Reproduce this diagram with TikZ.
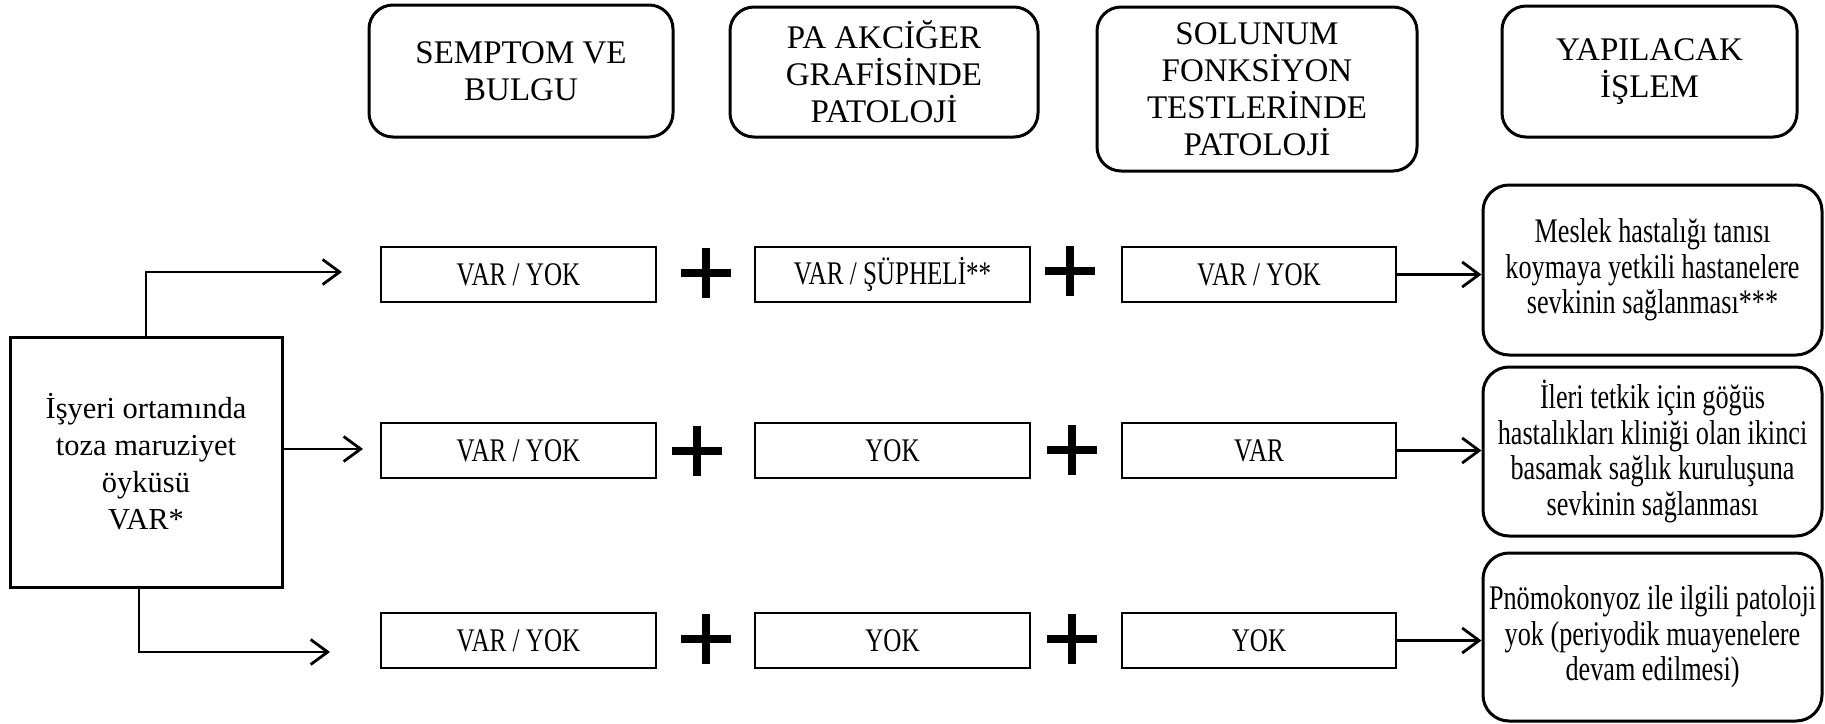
\documentclass[tikz,border=0pt]{standalone}
\usepackage{fontspec}
\setmainfont{Liberation Serif}
\newfontfamily\condserif{Liberation Serif}[FakeStretch=0.76]
\usetikzlibrary{arrows.meta}
\tikzset{
  hdr/.style={draw, line width=3pt, rounded corners=24pt, inner sep=0pt, align=center,
    font=\fontsize{33}{37}\selectfont},
  src/.style={draw, line width=3pt, inner sep=0pt, align=center,
    minimum width=272pt, minimum height=250pt, font=\fontsize{30.5}{37}\selectfont},
  cell/.style={draw, line width=2.8pt, inner sep=0pt, minimum height=55pt,
    font=\condserif\fontsize{33}{36}\selectfont},
  res/.style={draw, line width=3pt, rounded corners=26pt, inner sep=0pt, align=center,
    minimum width=339pt, font=\condserif\fontsize{34.5}{35.5}\selectfont},
  plusmark/.style={minimum size=50pt, inner sep=0pt,
    path picture={
      \fill ([yshift=-3.6pt]path picture bounding box.west) rectangle ([yshift=3.6pt]path picture bounding box.east);
      \fill ([xshift=-3.6pt]path picture bounding box.south) rectangle ([xshift=3.6pt]path picture bounding box.north);}},
  arr/.style={line width=2.8pt, -{Straight Barb[length=17pt,width=25pt]}},
}
\begin{document}
\begin{tikzpicture}[x=1pt,y=-1pt]
\useasboundingbox (0,0) rectangle (1825,723);
% headers
\node[hdr, minimum width=304pt, minimum height=132pt] (h1) at (521,71) {SEMPTOM VE\\BULGU};
\node[hdr, minimum width=308pt, minimum height=130pt] (h2) at (884,72) {PA AKCİĞER\\GRAFİSİNDE\\PATOLOJİ};
\node[hdr, minimum width=320pt, minimum height=164pt] (h3) at (1257,89) {SOLUNUM\\FONKSİYON\\TESTLERİNDE\\PATOLOJİ};
\node[hdr, minimum width=295pt, minimum height=131pt] (h4) at (1649.5,71.5) {YAPILACAK\\İŞLEM};
% source
\node[src] (L) at (146,462) {İşyeri ortamında\\toza maruziyet\\öyküsü\\VAR*};
% row 1
\node[cell, minimum width=275pt] (a1) at (518.5,274.5) {VAR / YOK};
\node[plusmark] (p11) at (706,273) {};
\node[cell, minimum width=275pt] (b1) at (892.5,274.5) {VAR / ŞÜPHELİ**};
\node[plusmark] (p12) at (1070,271) {};
\node[cell, minimum width=274pt] (c1) at (1259,274.5) {VAR / YOK};
% row 2
\node[cell, minimum width=275pt] (a2) at (518.5,450.5) {VAR / YOK};
\node[plusmark] (p21) at (697,451) {};
\node[cell, minimum width=275pt] (b2) at (892.5,450.5) {YOK};
\node[plusmark] (p22) at (1072,450) {};
\node[cell, minimum width=274pt] (c2) at (1259,450.5) {VAR};
% row 3
\node[cell, minimum width=275pt] (a3) at (518.5,640.5) {VAR / YOK};
\node[plusmark] (p31) at (706,639) {};
\node[cell, minimum width=275pt] (b3) at (892.5,640.5) {YOK};
\node[plusmark] (p32) at (1072,639) {};
\node[cell, minimum width=274pt] (c3) at (1259,640.5) {YOK};
% results
\node[res, minimum height=170pt] (r1) at (1652.5,270) {Meslek hastalığı tanısı\\koymaya yetkili hastanelere\\sevkinin sağlanması***};
\node[res, minimum height=169pt] (r2) at (1652.5,451.5) {İleri tetkik için göğüs\\hastalıkları kliniği olan ikinci\\basamak sağlık kuruluşuna\\sevkinin sağlanması};
\node[res, minimum height=168pt] (r3) at (1652.5,637) {Pnömokonyoz ile ilgili patoloji\\yok (periyodik muayenelere\\devam edilmesi)};
% free ends of the source arrows
\coordinate (e1) at (342,272);
\coordinate (e2) at (363,449);
\coordinate (e3) at (330,652);
\draw[arr] (L.north) |- (e1);
\draw[arr] (L.east |- e2) -- (e2);
\draw[arr] ([xshift=-7pt]L.south) |- (e3);
% arrows to results
\draw[arr] (c1.east) -- (c1.east -| r1.west);
\draw[arr] (c2.east) -- (c2.east -| r2.west);
\draw[arr] (c3.east) -- (c3.east -| r3.west);
\end{tikzpicture}
\end{document}
